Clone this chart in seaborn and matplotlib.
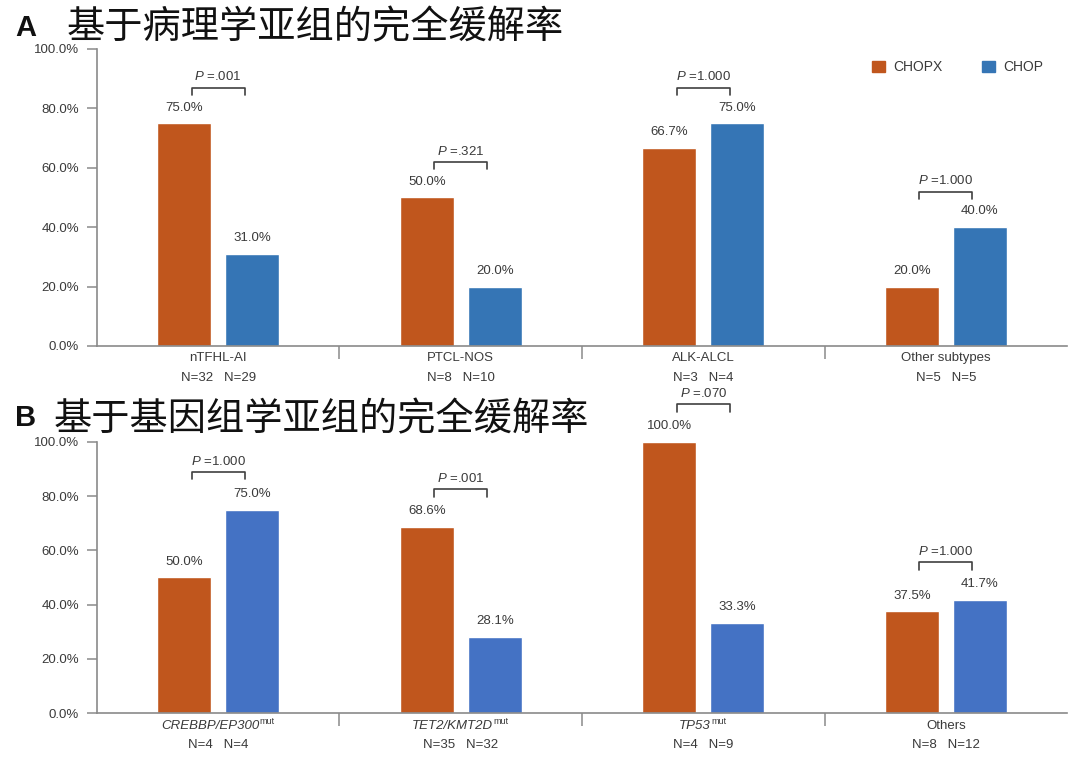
import pandas as pd
import matplotlib.pyplot as plt
import seaborn as sns

# panel A - pathology subgroups
cats_a = ['nTFHL-AI', 'PTCL-NOS', 'ALK-ALCL', 'Other subtypes']
sup_a = ['', '', '', '']
chopx_a = [75.0, 50.0, 66.7, 20.0]
chop_a = [31.0, 20.0, 75.0, 40.0]
n_chopx_a = [32, 8, 3, 5]
n_chop_a = [29, 10, 4, 5]
p_a = ['.001', '.321', '1.000', '1.000']

# panel B - genomic subgroups (gene names italic, "mut" superscript)
cats_b = ['CREBBP/EP300', 'TET2/KMT2D', 'TP53', 'Others']
sup_b = ['mut', 'mut', 'mut', '']
chopx_b = [50.0, 68.6, 100.0, 37.5]
chop_b = [75.0, 28.1, 33.3, 41.7]
n_chopx_b = [4, 35, 4, 8]
n_chop_b = [4, 32, 9, 12]
p_b = ['1.000', '.001', '.070', '1.000']

sns.set_style('white')
plt.rcParams['font.family'] = ['Liberation Sans', 'DejaVu Sans']
plt.rcParams['mathtext.fontset'] = 'custom'
plt.rcParams['mathtext.rm'] = 'Liberation Sans'
plt.rcParams['mathtext.it'] = 'Liberation Sans:italic'

ORANGE = '#C0561D'
TXT = '#3a3a3a'
AXC = '#8a8a8a'


def draw_panel(ax, cats, sups, chopx, chop, n1, n2, pvals, blue, bracket_off):
    df = pd.DataFrame({'cat': cats * 2,
                       'arm': ['CHOPX'] * len(cats) + ['CHOP'] * len(cats),
                       'cr': chopx + chop})
    sns.barplot(data=df, x='cat', y='cr', hue='arm', order=cats, hue_order=['CHOPX', 'CHOP'],
                palette={'CHOPX': ORANGE, 'CHOP': blue}, width=0.56, gap=0.21,
                saturation=1, ax=ax, legend=False, errorbar=None)
    ax.set_xlim(-0.5, 3.5)
    ax.set_ylim(0, 100)
    ax.set_yticks([0, 20, 40, 60, 80, 100])
    ax.set_yticklabels([f'{v:.1f}%' for v in [0, 20, 40, 60, 80, 100]], fontsize=9.5, color=TXT)
    ax.set_xticks([0.5, 1.5, 2.5])
    ax.set_xticklabels([])
    ax.tick_params(axis='both', direction='out', length=7, width=1.1, color=AXC, pad=6,
                   left=True, bottom=True)
    ax.tick_params(axis='x', length=9)
    ax.set_xlabel('')
    ax.set_ylabel('')
    for s in ['top', 'right']:
        ax.spines[s].set_visible(False)
    for s in ['left', 'bottom']:
        ax.spines[s].set_color(AXC)
        ax.spines[s].set_linewidth(1.2)

    # value labels
    for cont in ax.containers:
        ax.bar_label(cont, fmt='%.1f%%', padding=7, fontsize=9.5, color=TXT, clip_on=False)

    # category names and N
    for i, c in enumerate(cats):
        style = 'italic' if sups[i] else 'normal'
        name = ax.annotate(c, xy=(i, 0), xycoords=('data', 'axes fraction'),
                           xytext=(-6 if sups[i] else 0, -9), textcoords='offset points',
                           ha='center', va='center', fontsize=9.5, color=TXT, fontstyle=style)
        if sups[i]:
            ax.annotate(sups[i], xy=(1, 0.85), xycoords=name, xytext=(0.5, 0),
                        textcoords='offset points', ha='left', va='center', fontsize=6.5,
                        color=TXT)
        ax.annotate(f'N={n1[i]}   N={n2[i]}', xy=(i, 0), xycoords=('data', 'axes fraction'),
                    xytext=(0, -23), textcoords='offset points', ha='center', va='center',
                    fontsize=9.5, color=TXT)

    # P value brackets
    left_bars = ax.containers[0].patches
    right_bars = ax.containers[1].patches
    for i in range(len(cats)):
        x1 = left_bars[i].get_x() + left_bars[i].get_width() / 2 + 0.03
        x2 = right_bars[i].get_x() + right_bars[i].get_width() / 2 - 0.03
        top = max(chopx[i], chop[i]) + bracket_off
        leg = bracket_off * 0.2
        ax.plot([x1, x1, x2, x2], [top - leg, top, top, top - leg], color='#404040', lw=1.2,
                clip_on=False)
        ax.annotate(r'$\it{P}$ =' + pvals[i], xy=((x1 + x2) / 2, top), xytext=(0, 3),
                    textcoords='offset points', ha='center', va='bottom', fontsize=9.5,
                    color=TXT, zorder=5, annotation_clip=False)


fig = plt.figure(figsize=(10.8, 7.62), dpi=100)
ax_a = fig.add_axes([0.0898, 0.546, 0.8982, 0.3897])
ax_b = fig.add_axes([0.0898, 0.0643, 0.8982, 0.3557])

draw_panel(ax_a, cats_a, sup_a, chopx_a, chop_a, n_chopx_a, n_chop_a, p_a, '#3575B5', 12.0)
draw_panel(ax_b, cats_b, sup_b, chopx_b, chop_b, n_chopx_b, n_chop_b, p_b, '#4472C4', 14.0)

# titles
cjk = ['Noto Sans CJK SC', 'DejaVu Sans']
fig.text(0.014, 0.953, 'A', fontsize=21, fontweight='bold', color='#111111', va='baseline')
fig.text(0.062, 0.964, '基于病理学亚组的完全缓解率', fontsize=27.5, family=cjk,
         color='#111111', va='center')
fig.text(0.014, 0.441, 'B', fontsize=21, fontweight='bold', color='#111111', va='baseline')
fig.text(0.050, 0.449, '基于基因组学亚组的完全缓解率', fontsize=27.5, family=cjk,
         color='#111111', va='center')

# legend
handles = [plt.Rectangle((0, 0), 1, 1, color=ORANGE), plt.Rectangle((0, 0), 1, 1, color='#3575B5')]
fig.legend(handles, ['CHOPX', 'CHOP'], loc='upper left', bbox_to_anchor=(0.801, 0.93),
           ncol=2, frameon=False, fontsize=10, handlelength=0.9, handleheight=0.9,
           handletextpad=0.6, columnspacing=2.9, borderpad=0, labelcolor=TXT)

plt.savefig('out.png', dpi=100)
